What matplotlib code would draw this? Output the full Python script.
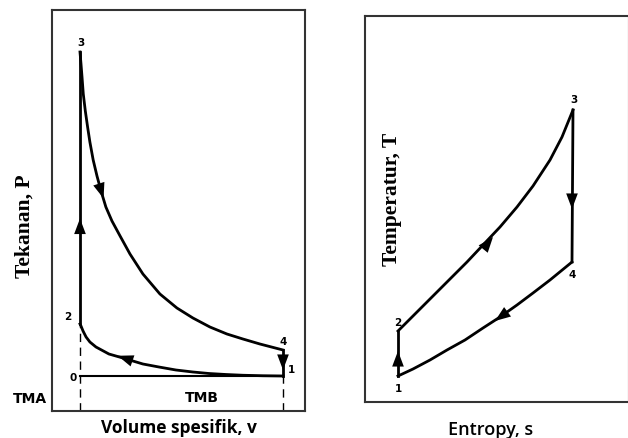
import matplotlib
matplotlib.use("Agg")
import matplotlib.pyplot as plt

# --- P-v diagram (left) ---
v_tma, v_tmb = 1.0, 9.0
p_atm = 1.0
# expansion 3 -> 4
v34 = [1.00, 1.04, 1.08, 1.13, 1.21, 1.30, 1.39, 1.52, 1.67, 1.83, 2.02, 2.26,
       2.58, 2.97, 3.48, 4.15, 4.82, 5.45, 6.12, 6.79, 7.42, 8.09, 9.00]
p34 = [13.96, 13.48, 12.96, 12.28, 11.60, 10.96, 10.36, 9.64, 9.00, 8.40, 7.76, 7.20,
       6.60, 5.88, 5.08, 4.28, 3.72, 3.32, 2.96, 2.68, 2.48, 2.28, 2.04]
# compression 1 -> 2
v12 = [9.00, 8.21, 7.42, 6.75, 6.08, 5.45, 4.78, 4.11, 3.48, 2.69, 2.14, 1.63,
       1.39, 1.24, 1.12, 1.04, 1.00]
p12 = [1.00, 1.01, 1.03, 1.06, 1.10, 1.16, 1.24, 1.36, 1.48, 1.72, 1.88, 2.16,
       2.36, 2.56, 2.80, 3.00, 3.08]
pv_labels = ["3", "2", "4", "1", "0"]
pv_label_pos = [(1.04, 14.36), (0.53, 3.40), (9.0, 2.40), (9.32, 1.28), (0.72, 0.96)]
pv_arrows = [((1.0, 6.5), (1.0, 7.3)), ((1.74, 8.70), (1.93, 8.10)),
             ((9.0, 1.8), (9.0, 1.24)), ((2.97, 1.64), (2.49, 1.81))]

# --- T-s diagram (right) ---
s23 = [1.00, 1.76, 2.40, 3.08, 3.76, 4.40, 5.08, 5.76, 6.40, 7.08, 7.56, 8.00]
t23 = [2.80, 3.56, 4.20, 4.88, 5.56, 6.24, 6.96, 7.76, 8.60, 9.64, 10.56, 11.64]
s41 = [7.96, 7.08, 6.40, 5.76, 5.08, 4.40, 3.68, 2.96, 2.28, 1.60, 1.00]
t41 = [5.56, 4.84, 4.32, 3.84, 3.36, 2.92, 2.44, 2.04, 1.64, 1.28, 1.00]
ts_labels = ["3", "4", "2", "1"]
ts_label_pos = [(8.04, 12.08), (7.96, 5.08), (1.0, 3.16), (1.0, 0.52)]
ts_arrows = [((4.28, 5.92), (4.80, 6.56)), ((7.96, 8.28), (7.96, 7.68)),
             ((5.48, 3.64), (4.88, 3.20)), ((1.0, 1.6), (1.0, 2.0))]

fig = plt.figure(figsize=(6.28, 4.39), dpi=100)
ax1 = fig.add_axes([52/628, 1-412/439, 253/628, 401/439])
ax2 = fig.add_axes([365/628, 1-403/439, 264/628, 386/439])

lw = 2.0
num_font = dict(fontsize=7.5, fontweight='bold', family='DejaVu Sans', ha='center', va='center')
arrow_kw = dict(arrowstyle='-|>,head_length=0.8,head_width=0.3', color='k', lw=0,
                shrinkA=0, shrinkB=0, mutation_scale=14)

# left plot
ax1.plot(v34, p34, color='k', lw=lw, solid_joinstyle='round')
ax1.plot(v12, p12, color='k', lw=lw, solid_joinstyle='round')
ax1.plot([v_tma, v_tma], [p12[-1], p34[0]], color='k', lw=lw)
ax1.plot([v_tmb, v_tmb], [p_atm, p34[-1]], color='k', lw=lw)
ax1.plot([v_tma, v_tmb], [p_atm, p_atm], color='k', lw=1.5)
ax1.plot([v_tma, v_tma], [-0.4, p12[-1]], color='k', lw=1.0, ls=(0, (6, 4)))
ax1.plot([v_tmb, v_tmb], [-0.4, p_atm], color='k', lw=1.0, ls=(0, (6, 4)))
for lab, (x, y) in zip(pv_labels, pv_label_pos):
    ax1.text(x, y, lab, **num_font)
for tail, tip in pv_arrows:
    ax1.annotate("", xy=tip, xytext=tail, arrowprops=arrow_kw)
ax1.text(-0.97, 0.12, "TMA", fontsize=10, fontweight='bold', family='DejaVu Sans',
         ha='center', va='center', clip_on=False)
ax1.text(5.81, 0.16, "TMB", fontsize=10, fontweight='bold', family='DejaVu Sans',
         ha='center', va='center')
ax1.set_xlim(-0.103, 9.867)
ax1.set_ylim(-0.4, 15.64)

# right plot
ax2.plot(s23, t23, color='k', lw=lw, solid_joinstyle='round')
ax2.plot(s41, t41, color='k', lw=lw, solid_joinstyle='round')
ax2.plot([s23[-1], s41[0]], [t23[-1], t41[0]], color='k', lw=lw)
ax2.plot([s41[-1], s23[0]], [t41[-1], t23[0]], color='k', lw=lw)
for lab, (x, y) in zip(ts_labels, ts_label_pos):
    ax2.text(x, y, lab, **num_font)
for tail, tip in ts_arrows:
    ax2.annotate("", xy=tip, xytext=tail, arrowprops=arrow_kw)
ax2.set_xlim(-0.32, 10.24)
ax2.set_ylim(-0.04, 15.4)

for ax in (ax1, ax2):
    ax.set_xticks([])
    ax.set_yticks([])
    for sp in ax.spines.values():
        sp.set_linewidth(1.5)
        sp.set_color('#333333')

fig.text(25/628, 1-226/439, "Tekanan, P", rotation=90, fontsize=15.5, fontweight='bold',
         family='Liberation Serif', ha='center', va='center')
fig.text(392/628, 1-199/439, "Temperatur, T", rotation=90, fontsize=15.5, fontweight='bold',
         family='Liberation Serif', ha='center', va='center')
fig.text(179/628, 1-428/439, "Volume spesifik, v", fontsize=12.5, fontweight='bold',
         family='Open Sans', ha='center', va='center')
fig.text(491/628, 1-430/439, "Entropy, s", fontsize=13, fontweight='semibold',
         family='Open Sans', ha='center', va='center')

fig.savefig("out.png", dpi=100)
